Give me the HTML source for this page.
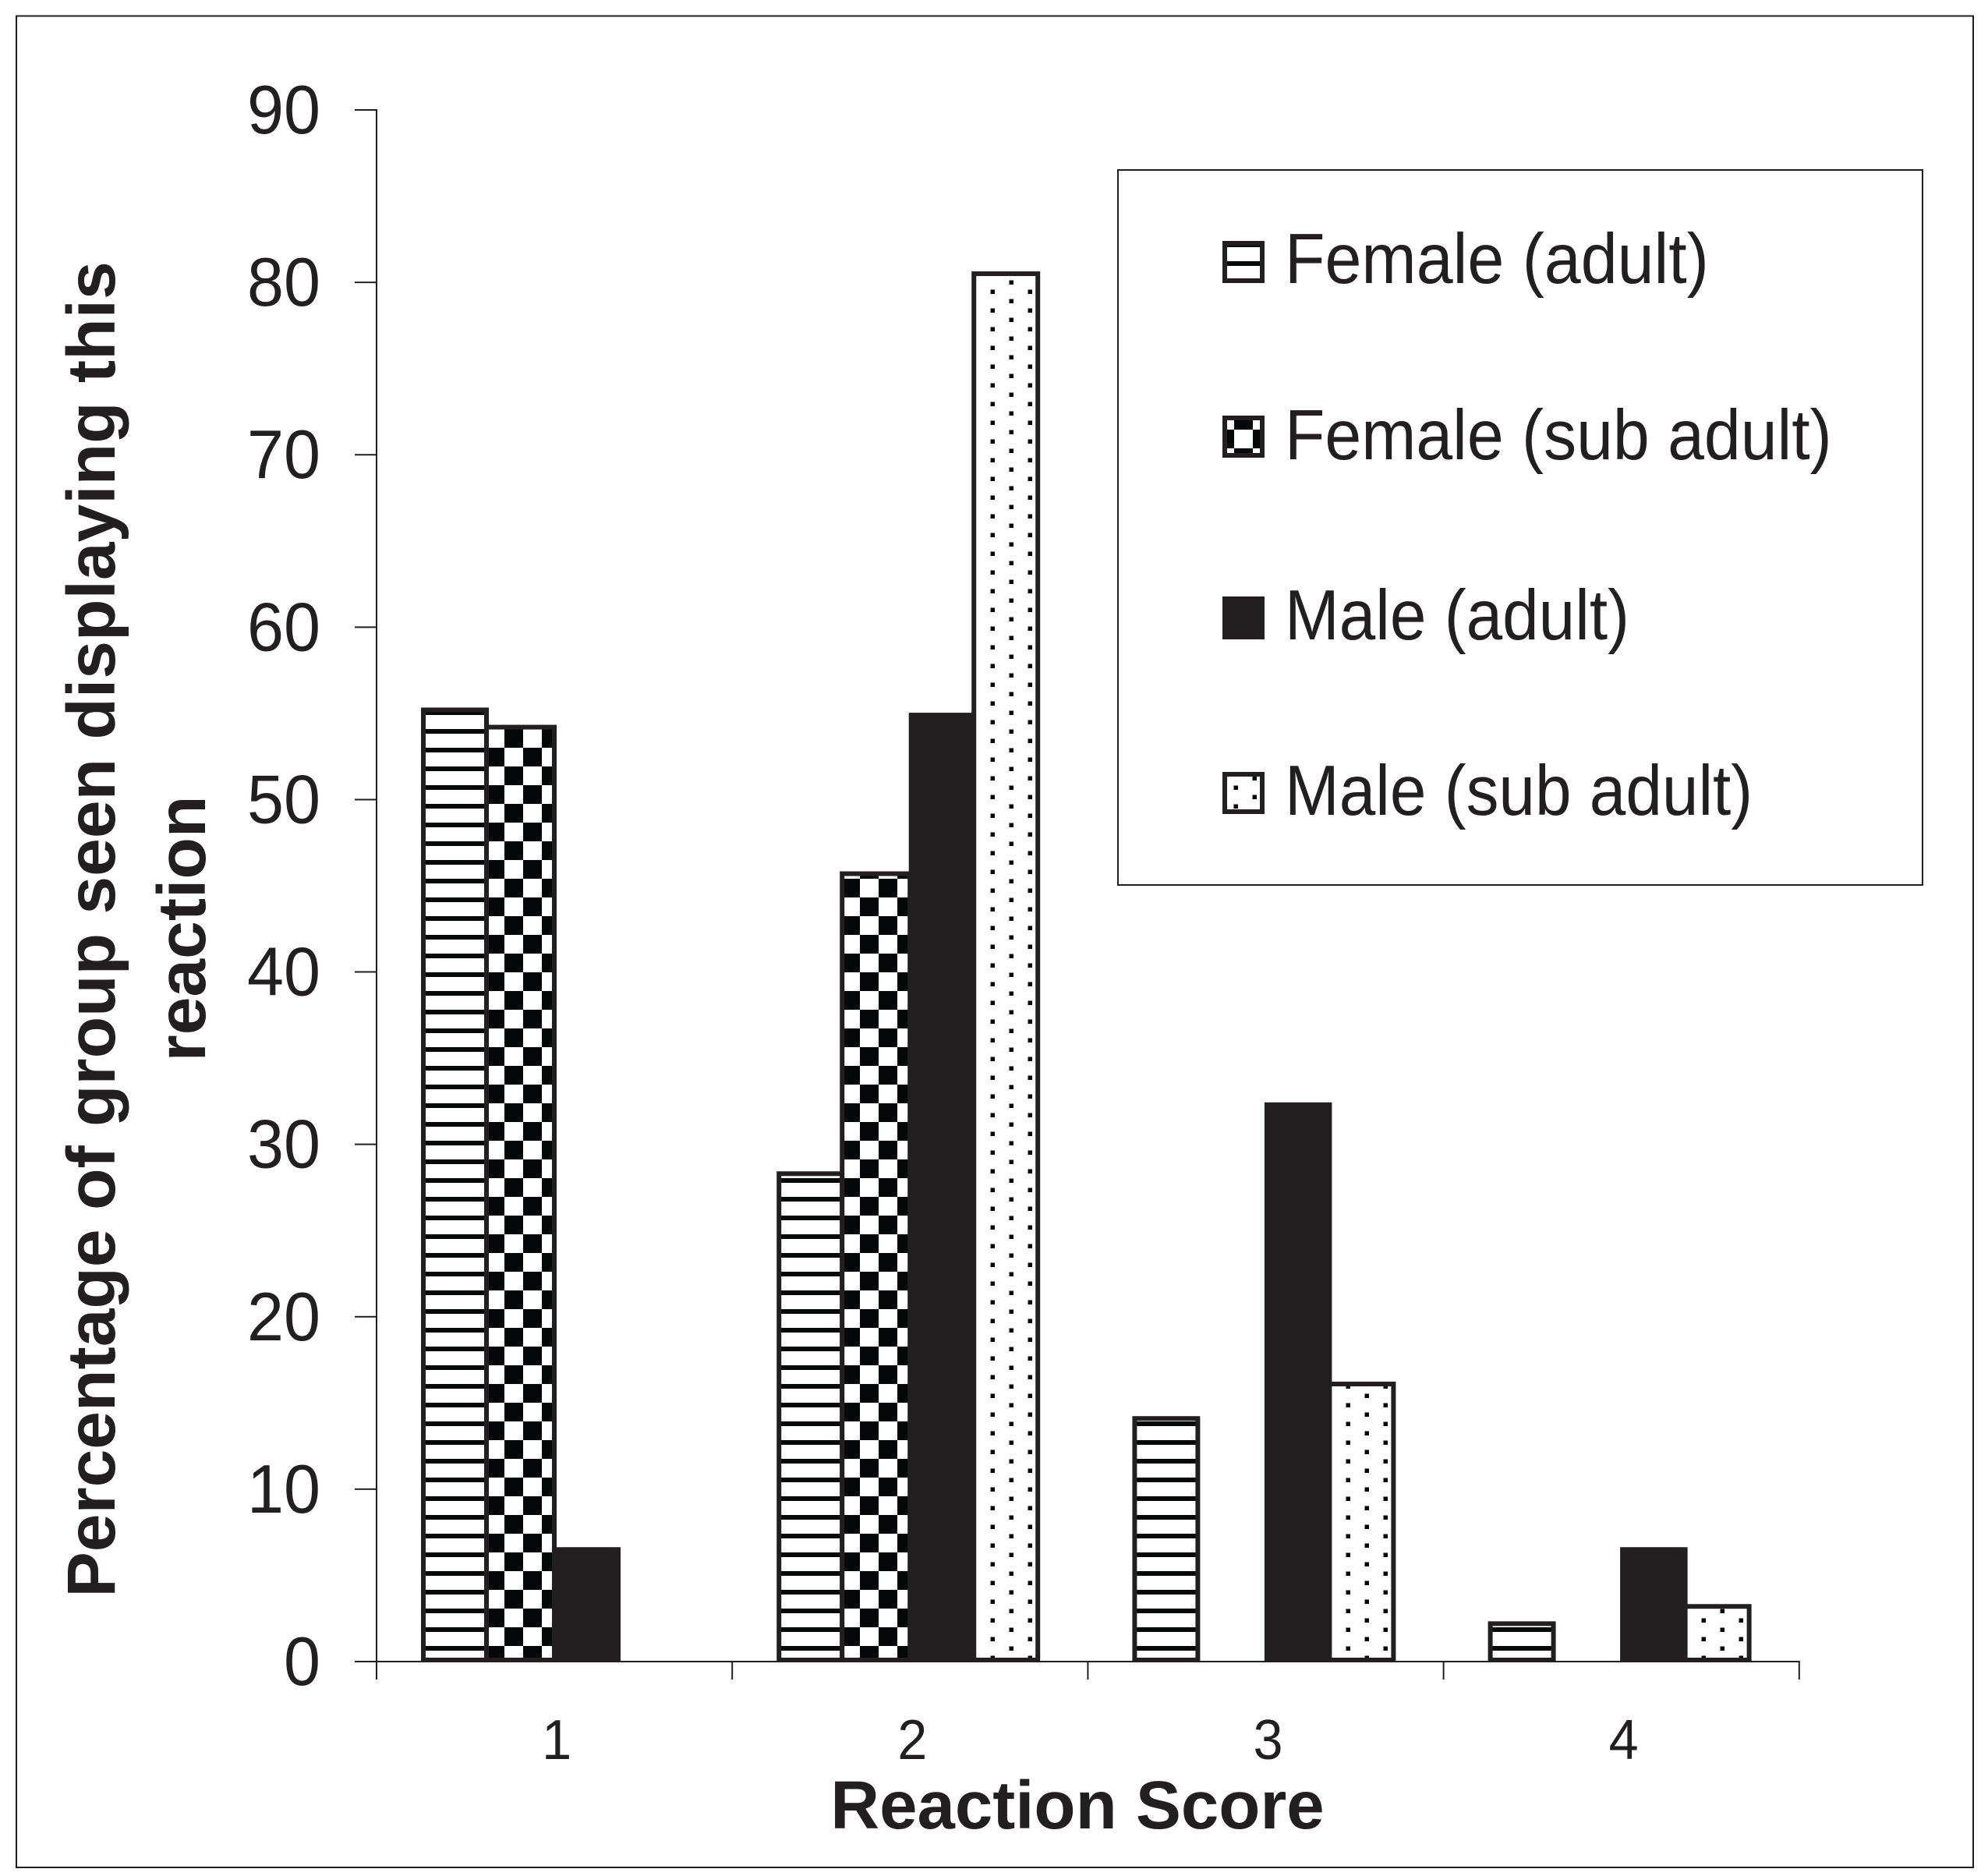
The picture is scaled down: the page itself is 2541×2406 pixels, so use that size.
<!DOCTYPE html>
<html lang="en">
<head>
<meta charset="utf-8">
<title>Reaction score chart</title>
<style>
html,body{margin:0;padding:0;background:#fff;}
svg{display:block;}
text{font-family:"Liberation Sans",Arial,sans-serif;fill:#231f20;}
</style>
</head>
<body>
<svg id="chart" xmlns="http://www.w3.org/2000/svg" width="2541" height="2406" viewBox="0 0 2541 2406">
  <defs>
    <pattern id="hatch" patternUnits="userSpaceOnUse" x="0" y="935" width="48" height="24">
      <rect x="0" y="0" width="48" height="24" fill="#fff"/>
      <rect x="0" y="0" width="48" height="6" fill="#040808"/>
    </pattern>
    <pattern id="checker" patternUnits="userSpaceOnUse" x="647" y="935" width="48" height="48">
      <rect x="0" y="0" width="48" height="48" fill="#fff"/>
      <rect x="0" y="0" width="24" height="24" fill="#040808"/>
      <rect x="24" y="24" width="24" height="24" fill="#040808"/>
    </pattern>
    <pattern id="dots" patternUnits="userSpaceOnUse" x="1270.5" y="371.5" width="48" height="24">
      <rect x="0" y="0" width="48" height="24" fill="#fff"/>
      <rect x="0" y="0" width="5.5" height="5.5" fill="#040808"/>
      <rect x="24" y="12" width="5.5" height="5.5" fill="#040808"/>
    </pattern>
  </defs>

  <rect x="0" y="0" width="2541" height="2406" fill="#ffffff"/>
  <rect x="21" y="20.5" width="2510" height="2374.5" fill="none" stroke="#231f20" stroke-width="2"/>

  <g id="bars"></g>
  <g id="axes"></g>

  <text x="1382" y="2345" font-size="87" font-weight="700" text-anchor="middle">Reaction Score</text>
  <text transform="translate(147 1192) rotate(-90)" font-size="87.6" font-weight="700" text-anchor="middle">Percentage of group seen displaying this</text>
  <text transform="translate(263 1191) rotate(-90)" font-size="87.6" font-weight="700" text-anchor="middle">reaction</text>

  <g>
    <rect x="1434" y="218" width="1032" height="917" fill="#fff" stroke="#231f20" stroke-width="2"/>
    <g>
      <rect x="1571" y="312" width="48" height="48" fill="url(#hatch)" stroke="#231f20" stroke-width="6"/>
      <text transform="translate(1648 363) scale(0.927 1)" font-size="91">Female (adult)</text>
    </g>
    <g>
      <rect x="1571" y="536" width="48" height="48" fill="url(#checker)" stroke="#231f20" stroke-width="6"/>
      <text transform="translate(1648 589) scale(0.925 1)" font-size="91">Female (sub adult)</text>
    </g>
    <g>
      <rect x="1571" y="768" width="48" height="49" fill="#231f20" stroke="#231f20" stroke-width="6"/>
      <text transform="translate(1648 820) scale(0.92 1)" font-size="91">Male (adult)</text>
    </g>
    <g>
      <rect x="1571" y="993" width="48" height="48" fill="url(#dots)" stroke="#231f20" stroke-width="6"/>
      <text transform="translate(1648 1045) scale(0.92 1)" font-size="91">Male (sub adult)</text>
    </g>
  </g>
</svg>

<script>
var categories = ["1", "2", "3", "4"];
var yTickLabels = [0, 10, 20, 30, 40, 50, 60, 70, 80, 90];
var femaleAdult = [55.2, 28.3, 14.1, 2.2];
var femaleSubAdult = [54.2, 45.7, 0, 0];
var maleAdult = [6.5, 54.9, 32.3, 6.5];
var maleSubAdult = [0, 80.5, 16.1, 3.2];

var NS = "http://www.w3.org/2000/svg";
var INK = "#231f20";
var PLOT_LEFT = 483, PLOT_BOTTOM = 2131, PLOT_TOP = 141, CAT_WIDTH = 456.2, Y_MAX = 90;

function yScale(v) {
  return PLOT_BOTTOM - (v / Y_MAX) * (PLOT_BOTTOM - PLOT_TOP);
}
function xBand(i) {
  return PLOT_LEFT + i * CAT_WIDTH;
}
function line(parent, x1, y1, x2, y2) {
  var el = document.createElementNS(NS, "line");
  el.setAttribute("x1", x1);
  el.setAttribute("y1", y1);
  el.setAttribute("x2", x2);
  el.setAttribute("y2", y2);
  el.setAttribute("stroke", INK);
  el.setAttribute("stroke-width", 2);
  parent.appendChild(el);
  return el;
}

var axes = document.getElementById("axes");
var barsGroup = document.getElementById("bars");

var yAxisLine = line(axes, PLOT_LEFT, PLOT_TOP - 1, PLOT_LEFT, PLOT_BOTTOM);


var xAxisLine = line(axes, PLOT_LEFT - 1, PLOT_BOTTOM, xBand(categories.length) + 1, PLOT_BOTTOM);



yTickLabels.forEach(function (t) {
  var tick = line(axes, 455, yScale(t), PLOT_LEFT, yScale(t));
  
  
  var label = document.createElementNS(NS, "text");
  
  
  label.setAttribute("transform", "translate(411 " + (yScale(t) + 30) + ") scale(0.96 1)");
  label.setAttribute("font-size", 88);
  label.setAttribute("text-anchor", "end");
  label.textContent = t;
  axes.appendChild(label);
});

for (var k = 0; k <= categories.length; k++) {
  var xTick = line(axes, xBand(k), PLOT_BOTTOM, xBand(k), 2154);
  
  
}

categories.forEach(function (c, i) {
  var label = document.createElementNS(NS, "text");
  
  
  label.setAttribute("transform", "translate(" + (xBand(i) + CAT_WIDTH / 2 + 3) + " 2256) scale(0.95 1)");
  label.setAttribute("font-size", 72);
  label.setAttribute("text-anchor", "middle");
  label.textContent = c;
  axes.appendChild(label);
});

function drawSeries(values, offset, width, fill, seriesName) {
  values.forEach(function (v, i) {
    if (!(v > 0)) return;
    var el = document.createElementNS(NS, "rect");
    
    
    var top = yScale(v);
    el.setAttribute("x", xBand(i) + offset);
    el.setAttribute("y", top);
    el.setAttribute("width", width);
    el.setAttribute("height", Math.max(0, PLOT_BOTTOM - 2 - top));
    el.setAttribute("fill", fill);
    el.setAttribute("stroke", INK);
    el.setAttribute("stroke-width", 6);
    barsGroup.appendChild(el);
  });
}

drawSeries(femaleAdult, 60, 81, "url(#hatch)", "female-adult");
drawSeries(femaleSubAdult, 141, 87, "url(#checker)", "female-sub-adult");
drawSeries(maleAdult, 229.5, 80.5, INK, "male-adult");
drawSeries(maleSubAdult, 310, 82, "url(#dots)", "male-sub-adult");
</script>
</body>
</html>
